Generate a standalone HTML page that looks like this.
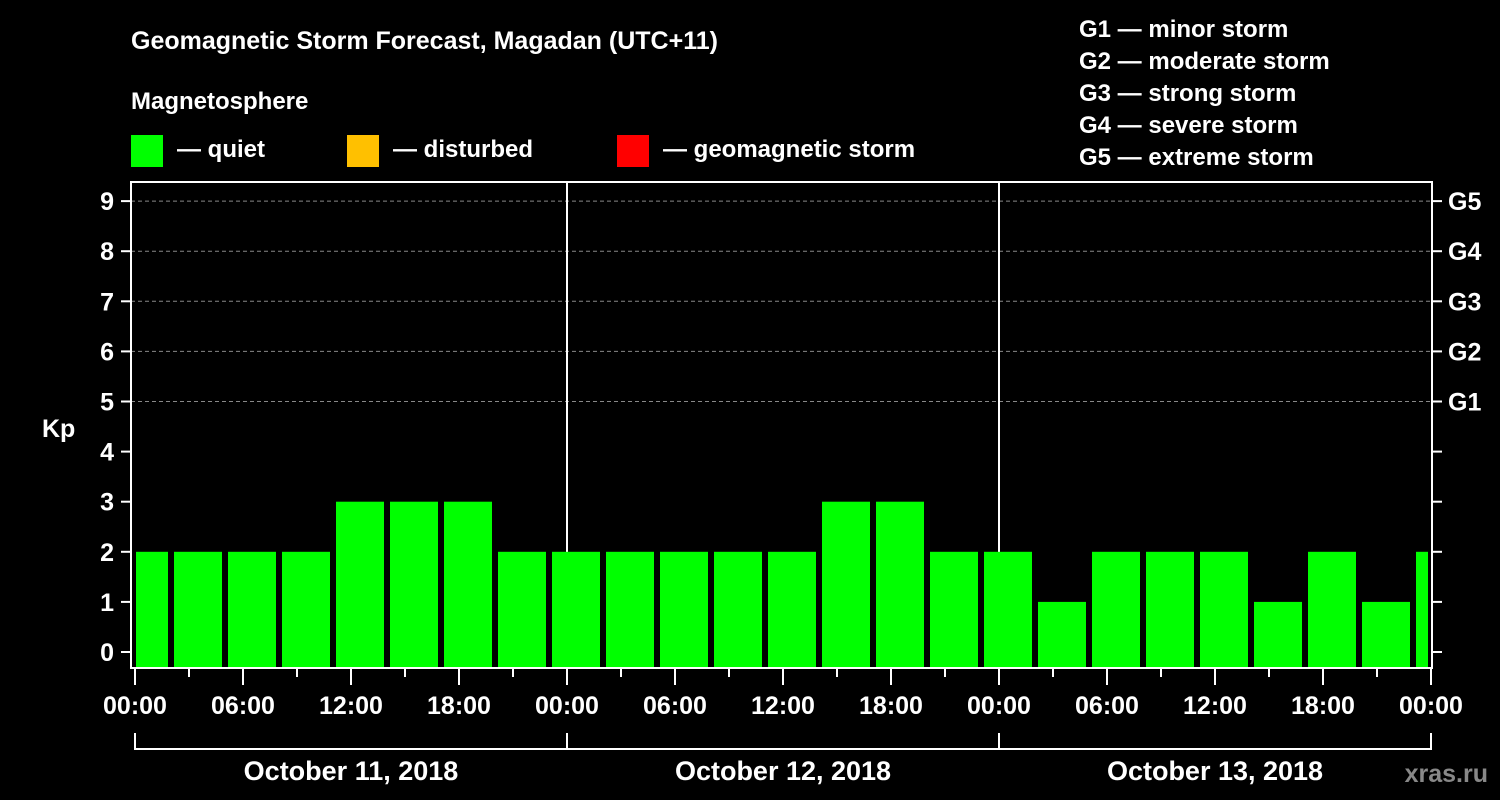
<!DOCTYPE html>
<html><head><meta charset="utf-8">
<style>
body{margin:0;background:#000;}
svg{display:block;font-family:"Liberation Sans",sans-serif;font-weight:bold;}
</style></head>
<body>
<svg id="chart" width="1500" height="800" viewBox="0 0 1500 800">
<rect width="1500" height="800" fill="#000"/>
<text x="131" y="49" fill="#fff" font-size="25">Geomagnetic Storm Forecast, Magadan (UTC+11)</text>
<text x="131" y="109" fill="#fff" font-size="24">Magnetosphere</text>
<rect x="131" y="135" width="32" height="32" fill="#00ff00"/>
<text x="177" y="157" fill="#fff" font-size="24">— quiet</text>
<rect x="347" y="135" width="32" height="32" fill="#ffc000"/>
<text x="393" y="157" fill="#fff" font-size="24">— disturbed</text>
<rect x="617" y="135" width="32" height="32" fill="#ff0000"/>
<text x="663" y="157" fill="#fff" font-size="24">— geomagnetic storm</text>
<g fill="#fff" font-size="24">
<text x="1079" y="37">G1 — minor storm</text>
<text x="1079" y="69">G2 — moderate storm</text>
<text x="1079" y="101">G3 — strong storm</text>
<text x="1079" y="133">G4 — severe storm</text>
<text x="1079" y="165">G5 — extreme storm</text>
</g>
<text x="42" y="437" fill="#fff" font-size="25">Kp</text>
<text x="1488" y="782" fill="#888" font-size="25" text-anchor="end">xras.ru</text>
<g id="grid"></g>
<g id="bars"></g>
<g id="axes"></g>
</svg>
<script>
const kpValues=[2,2,2,2,3,3,3,2, 2,2,2,2,2,3,3,2, 2,1,2,2,2,1,2,1, 2];
const yTicks=[0,1,2,3,4,5,6,7,8,9];
const gLabels=["G1","G2","G3","G4","G5"];
const gLevels=[5,6,7,8,9];
const hourLabels=["00:00","06:00","12:00","18:00","00:00","06:00","12:00","18:00","00:00","06:00","12:00","18:00","00:00"];
const dayLabels=["October 11, 2018","October 12, 2018","October 13, 2018"];

const NS="http://www.w3.org/2000/svg";
const L=131,R=1432,T=182,B=668;
const x0=135,pxHour=18;
const y=v=>652-v*50.1;
const xh=h=>x0+h*pxHour;
function mk(tag,attrs,parent,txt){const e=document.createElementNS(NS,tag);for(const k in attrs)e.setAttribute(k,attrs[k]);if(txt!==undefined)e.textContent=txt;parent.appendChild(e);return e;}
const grid=document.getElementById('grid'),bars=document.getElementById('bars'),axes=document.getElementById('axes');
gLevels.forEach(v=>{
  const l=mk('line',{x1:L,x2:R,y1:y(v),y2:y(v),stroke:'#888','stroke-width':1,'stroke-dasharray':'4,3'},grid);
  
  
});
[1,2].forEach(d=>{
  const l=mk('line',{x1:xh(24*d),x2:xh(24*d),y1:T,y2:B,stroke:'#fff','stroke-width':2},grid);
  
  
});
kpValues.forEach((v,i)=>{
  let a=xh(i*3)-15,b=a+48;
  a=Math.max(a,136);b=Math.min(b,1428);
  const top=y(v);
  const r=mk('rect',{x:a,y:top,width:b-a,height:B-top,fill:'#00ff00'},bars);
  
  
});
const f=mk('rect',{x:L,y:T,width:R-L,height:B-T,fill:'none',stroke:'#fff','stroke-width':2},axes);


yTicks.forEach(v=>{
  mk('line',{x1:121,x2:L,y1:y(v),y2:y(v),stroke:'#fff','stroke-width':2},axes);
  mk('line',{x1:R,x2:1442,y1:y(v),y2:y(v),stroke:'#fff','stroke-width':2},axes);
  const t=mk('text',{x:114,y:y(v)+9,fill:'#fff','font-size':25,'text-anchor':'end'},axes,String(v));
  
  
});
gLevels.forEach((v,i)=>{
  const t=mk('text',{x:1448,y:y(v)+9,fill:'#fff','font-size':25},axes,gLabels[i]);
  
  
});
for(let h=0;h<=72;h+=3){
  const major=h%6===0;
  mk('line',{x1:xh(h),x2:xh(h),y1:B,y2:major?685:677,stroke:'#fff','stroke-width':2},axes);
}
hourLabels.forEach((s,i)=>{
  const t=mk('text',{x:xh(i*6),y:714,fill:'#fff','font-size':25,'text-anchor':'middle'},axes,s);
  
  
});
mk('path',{d:`M${xh(0)} 733V749H${xh(72)}V733M${xh(24)} 733V749M${xh(48)} 733V749`,stroke:'#fff','stroke-width':2,fill:'none'},axes);
dayLabels.forEach((s,i)=>{
  const t=mk('text',{x:xh(i*24+12),y:780,fill:'#fff','font-size':27,'text-anchor':'middle'},axes,s);
  
  
});
</script>
</body></html>
